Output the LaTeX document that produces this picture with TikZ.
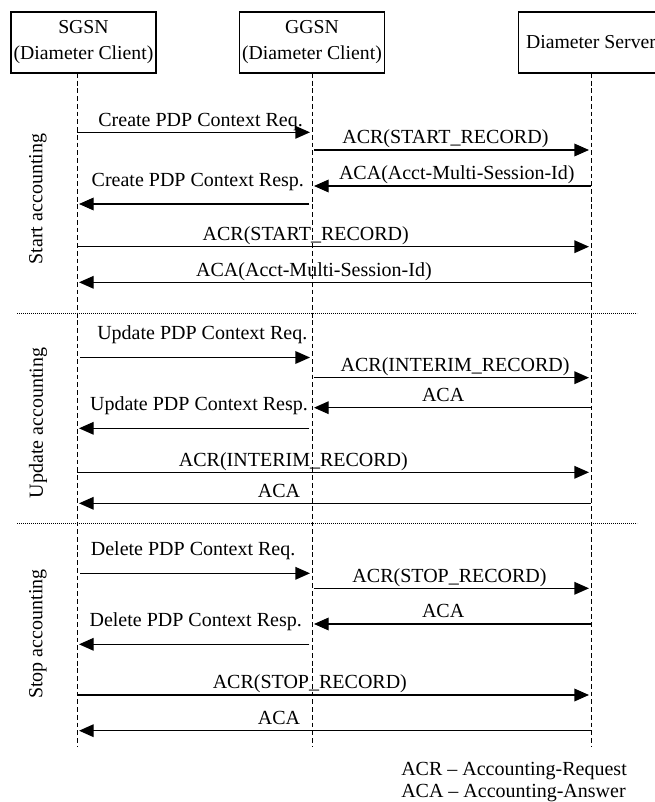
\documentclass[tikz,border=0pt]{standalone}
\usepackage{fontspec}
\setmainfont{Liberation Serif}
\usetikzlibrary{arrows.meta,positioning}

\begin{document}
\begin{tikzpicture}[
  x=0.75pt, y=-0.75pt,
  font=\fontsize{15}{17}\selectfont,
  head/.style={draw,line width=1pt,minimum width=108.75pt,minimum height=45.75pt,inner sep=2pt,align=center,font=\fontsize{14.8}{19.5}\selectfont},
  life/.style={dash pattern=on 3.6pt off 2.2pt,line width=0.6pt},
  msg/.style={-{Triangle[length=11pt,width=9.5pt]},line width=1pt,shorten >=1.5pt},
  lbl/.style={anchor=base,inner sep=0pt,yshift=4.7pt},
  hi/.style={yshift=8.5pt},
  sep/.style={dash pattern=on 0.6pt off 0.9pt,line width=0.6pt},
  phase/.style={rotate=90}
]
  \useasboundingbox (0,0) rectangle (654,802);

  % heads
  \node[head] (sgsn) at (83.5,42.5) {SGSN\\(Diameter Client)};
  \node[head] (ggsn) at (312,42.5) {GGSN\\(Diameter Client)};
  \node[head] (srv) at (591,42.5) {Diameter Server};

  % lifelines
  \coordinate (sTop) at (77,73);  \coordinate (sBot) at (77,747);
  \coordinate (gTop) at (312,73); \coordinate (gBot) at (312,747);
  \coordinate (dTop) at (591,73); \coordinate (dBot) at (591,747);
  \draw[life] (sTop) -- (sBot);
  \draw[life] (gTop) -- (gBot);
  \draw[life] (dTop) -- (dBot);

  % one row of points per message
  \foreach \r/\y in {1/132.3,2/150,3/186,4/204,5/246.7,6/282.3,
                     7/357.5,8/377.7,9/407.7,10/428.3,11/472.3,12/503.3,
                     13/573.3,14/588.3,15/624,16/644.3,17/695,18/730.7}{
    \coordinate (s\r) at (77,\y);
    \coordinate (g\r) at (312,\y);
    \coordinate (d\r) at (591,\y);
  }

  % start accounting
  \draw[msg] (s1) -- node[lbl,pos=.526] {Create PDP Context Req.} (g1);
  \draw[msg,shorten <=1.5pt] (g2) -- node[lbl,pos=.478] {ACR(START\_RECORD)} (d2);
  \draw[msg] (d3) -- node[lbl,pos=.481] {ACA(Acct-Multi-Session-Id)} (g3);
  \draw[msg,shorten <=2pt] (g4) -- node[lbl,hi,pos=.486] {Create PDP Context Resp.} (s4);
  \draw[msg] (s5) -- node[lbl,pos=.445] {ACR(START\_RECORD)} (d5);
  \draw[msg] (d6) -- node[lbl,pos=.539] {ACA(Acct-Multi-Session-Id)} (s6);

  % update accounting
  \draw[msg,shorten <=2.5pt] (s7) -- node[lbl,hi,pos=.533] {Update PDP Context Req.} (g7);
  \draw[msg,shorten <=1.5pt] (g8) -- node[lbl,pos=.513] {ACR(INTERIM\_RECORD)} (d8);
  \draw[msg] (d9) -- node[lbl,pos=.53] {ACA} (g9);
  \draw[msg,shorten <=2pt] (g10) -- node[lbl,hi,pos=.481] {Update PDP Context Resp.} (s10);
  \draw[msg] (s11) -- node[lbl,pos=.421] {ACR(INTERIM\_RECORD)} (d11);
  \draw[msg] (d12) -- node[lbl,pos=.607] {ACA} (s12);

  % stop accounting
  \draw[msg,shorten <=2.5pt] (s13) -- node[lbl,hi,pos=.494] {Delete PDP Context Req.} (g13);
  \draw[msg,shorten <=1.5pt] (g14) -- node[lbl,pos=.493] {ACR(STOP\_RECORD)} (d14);
  \draw[msg] (d15) -- node[lbl,pos=.53] {ACA} (g15);
  \draw[msg,shorten <=2pt] (g16) -- node[lbl,hi,pos=.495] {Delete PDP Context Resp.} (s16);
  \draw[msg] (s17) -- node[lbl,pos=.453] {ACR(STOP\_RECORD)} (d17);
  \draw[msg] (d18) -- node[lbl,pos=.607] {ACA} (s18);

  % phase separators
  \coordinate (sepA1) at (17,313); \coordinate (sepA2) at (637,313);
  \coordinate (sepB1) at (17,523); \coordinate (sepB2) at (637,523);
  \draw[sep] (sepA1) -- (sepA2);
  \draw[sep] (sepB1) -- (sepB2);

  \node[phase] (phStart) at (38,199) {Start accounting};
  \node[phase] (phUpdate) at (38,423) {Update accounting};
  \node[phase] (phStop) at (38,634) {Stop accounting};

  % key
  \node[anchor=base west,inner sep=0pt] (keyAcr) at (401,775) {ACR \textendash{} Accounting-Request};
  \node[anchor=base west,inner sep=0pt] (keyAca) at (401,797) {ACA \textendash{} Accounting-Answer};
\end{tikzpicture}
\end{document}
